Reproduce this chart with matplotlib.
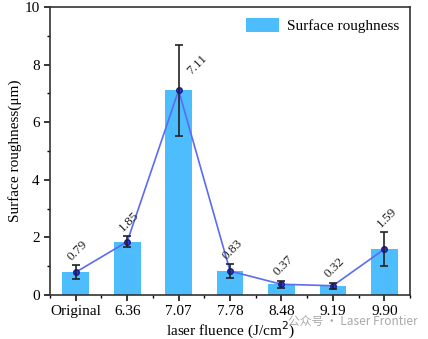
import matplotlib.pyplot as plt
import numpy as np
from matplotlib.ticker import MultipleLocator

categories = ["Original", "6.36", "7.07", "7.78", "8.48", "9.19", "9.90"]
roughness = [0.79, 1.85, 7.11, 0.83, 0.37, 0.32, 1.59]
errors = [0.25, 0.19, 1.59, 0.23, 0.12, 0.10, 0.59]

plt.rcParams['font.family'] = ['Liberation Serif', 'DejaVu Serif']

fig = plt.figure(figsize=(4.28, 3.39), dpi=100)
ax = fig.add_axes([0.117, 0.13, 0.841, 0.849])

x = np.arange(len(categories))
ax.bar(x, roughness, width=0.52, color="#4DBDFD", label="Surface roughness", zorder=2)
ax.plot(x, roughness, color="#5B6BF5", lw=1.2, marker="o", ms=4,
        mfc="#2A3BD8", mec="#1A1AA0", zorder=3)
ax.errorbar(x, roughness, yerr=errors, fmt="none", ecolor="#222222",
            elinewidth=1.2, capsize=3, capthick=1.2, zorder=4)

# value labels sit above the error bar; the tall one goes beside it
for i, (xi, v, e) in enumerate(zip(x, roughness, errors)):
    if e > 1:
        ax.text(xi + 0.12, v + 0.45, f"{v:.2f}", rotation=45, fontsize=9.5,
                ha="left", va="bottom", color="#222222", zorder=5)
    else:
        ax.text(xi + 0.04, v + e + 0.08, f"{v:.2f}", rotation=45, fontsize=9.5,
                ha="center", va="bottom", color="#222222", zorder=5)

ax.set_xlim(-0.5, 6.5)
ax.set_ylim(0, 10)
ax.set_xticks(x)
ax.set_xticklabels(categories, fontsize=11)
ax.xaxis.set_minor_locator(MultipleLocator(0.5))
ax.yaxis.set_major_locator(MultipleLocator(2))
ax.yaxis.set_minor_locator(MultipleLocator(1))
ax.tick_params(axis="y", labelsize=11)
ax.tick_params(which="major", length=4, width=1.1)
ax.tick_params(which="minor", length=2.5, width=1.0)
for s in ax.spines.values():
    s.set_linewidth(1.2)
    s.set_color("#333333")

ax.set_ylabel("Surface roughness(μm)", fontsize=11, labelpad=2)
ax.set_xlabel("laser fluence (J/cm$^2$)", fontsize=11, labelpad=1)

ax.legend(loc="upper right", frameon=False, fontsize=11, handlelength=2.2,
          handleheight=1.1, borderaxespad=0.3, handletextpad=0.5)

fig.text(0.975, 0.04, "公众号 · Laser Frontier", fontsize=8.5, color="#9a9a9a",
         family=['Noto Sans CJK SC', 'DejaVu Sans'], ha="right", alpha=0.85)

fig.savefig("out.png", dpi=100)
